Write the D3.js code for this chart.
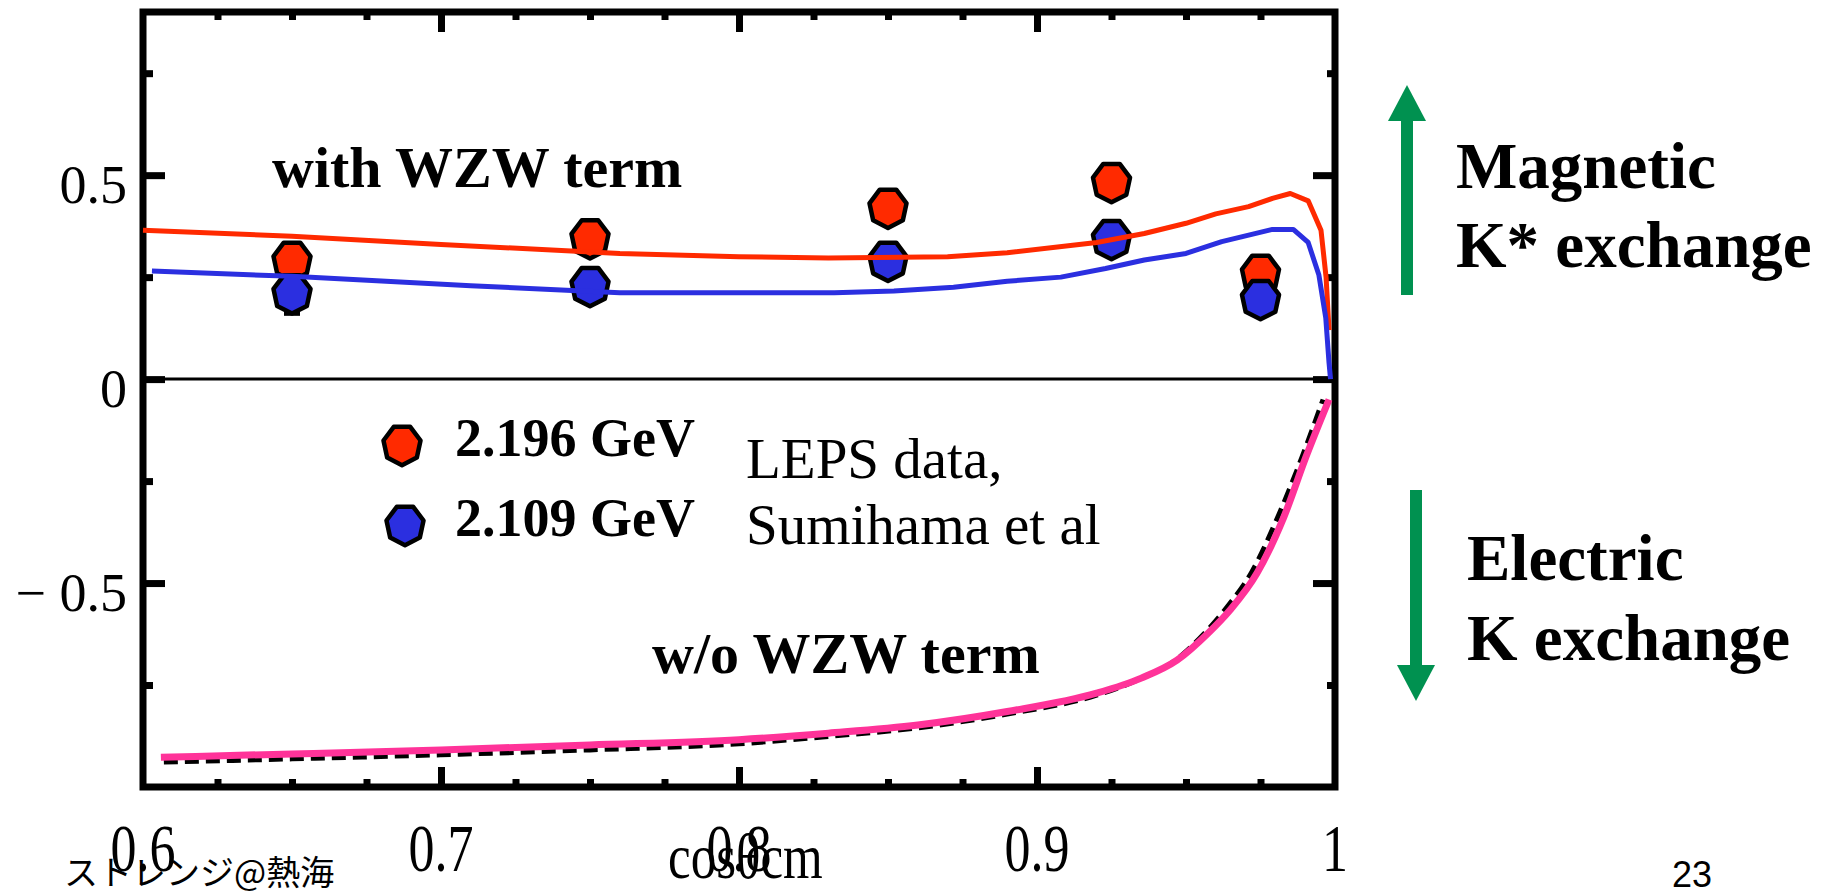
<!DOCTYPE html>
<html>
<head>
<meta charset="utf-8">
<script src="https://cdnjs.cloudflare.com/ajax/libs/d3/7.8.5/d3.min.js"></script>
<style>
  html, body { margin: 0; padding: 0; background: #fff; }
  svg { display: block; }
  .serif { font-family: "Liberation Serif", "Times New Roman", serif; }
</style>
</head>
<body>
<svg id="chart" width="1838" height="895"></svg>
<script>
(function() {
    'use strict';

    // LEPS data points (cos theta_cm)
    var dataCos = [0.65, 0.75, 0.85, 0.925, 0.975];
    var data2196 = [0.29, 0.345, 0.42, 0.483, 0.258];
    var err2196 = [0.03, 0.04, 0.035, 0.03, 0.03];
    var data2109 = [0.21, 0.228, 0.29, 0.343, 0.196];
    var err2109 = [0.05, 0.04, 0.035, 0.03, 0.03];

    // model curves with WZW term
    var withRedX = [0.6, 0.65, 0.7, 0.76, 0.8, 0.83, 0.87, 0.89, 0.92, 0.936, 0.95, 0.96, 0.971, 0.979, 0.985, 0.991, 0.9953, 0.997, 0.998];
    var withRedY = [0.365, 0.35, 0.33, 0.308, 0.3, 0.297, 0.3, 0.31, 0.335, 0.357, 0.382, 0.405, 0.423, 0.443, 0.455, 0.437, 0.365, 0.25, 0.12];
    var withBlueX = [0.603, 0.65, 0.71, 0.76, 0.832, 0.852, 0.872, 0.89, 0.908, 0.923, 0.936, 0.95, 0.962, 0.979, 0.986, 0.991, 0.9946, 0.9969, 0.998, 0.9985];
    var withBlueY = [0.265, 0.252, 0.229, 0.212, 0.212, 0.216, 0.225, 0.24, 0.25, 0.271, 0.292, 0.308, 0.337, 0.367, 0.367, 0.335, 0.255, 0.15, 0.04, 0.0];

    // model curves without WZW term
    var woPinkX = [0.606, 0.65, 0.7, 0.75, 0.8, 0.83, 0.86, 0.89, 0.92, 0.935, 0.947, 0.9574, 0.9648, 0.9738, 0.9829, 0.9903, 0.998];
    var woPinkY = [-0.927, -0.919, -0.909, -0.897, -0.884, -0.868, -0.848, -0.815, -0.77, -0.733, -0.689, -0.623, -0.566, -0.476, -0.337, -0.19, -0.05];
    var woDashX = [0.607, 0.65, 0.7, 0.75, 0.8, 0.83, 0.86, 0.89, 0.92, 0.934, 0.946, 0.956, 0.963, 0.972, 0.981, 0.989, 0.996];
    var woDashY = [-0.939, -0.931, -0.921, -0.909, -0.894, -0.876, -0.855, -0.821, -0.775, -0.737, -0.692, -0.625, -0.566, -0.474, -0.335, -0.19, -0.05];

    var xMajor = [0.6, 0.7, 0.8, 0.9, 1.0];
    var xMajorLabels = ["0.6", "0.7", "0.8", "0.9", "1"];
    var xMinor = [0.625, 0.65, 0.675, 0.725, 0.75, 0.775, 0.825, 0.85, 0.875, 0.925, 0.95, 0.975];
    var yMajor = [-0.5, 0, 0.5];
    var yMajorLabels = ["\u2212 0.5", "0", "0.5"];
    var yMinor = [-0.75, -0.25, 0.25, 0.75];

    var legendNames = ["2.196 GeV", "2.109 GeV"];
    var colRed = "#ff2a00", colBlue = "#2b2fe0", colPink = "#ff3399", colGreen = "#009150";

    var svg = d3.select("#chart");
    var left = 143, right = 1335, top = 12, bottom = 787;

    var x = d3.scaleLinear().domain([0.6, 1.0]).range([left, right]);
    var y = d3.scaleLinear().domain([-1.0, 0.9]).range([bottom, top]);

    var g = svg.append("g");

    // zero line
    g.append("line")
        .attr("x1", x(0.6)).attr("x2", x(1.0))
        .attr("y1", y(0)).attr("y2", y(0))
        .attr("stroke", "#000").attr("stroke-width", 3);

    // ticks, pointing inward on all four sides
    function ticks(axisFn, scale, values, size, transform) {
        g.append("g")
            .attr("transform", transform)
            .call(axisFn(scale).tickValues(values).tickSize(size).tickFormat(""))
            .call(function(s) {
                s.select(".domain").remove();
                s.selectAll(".tick line").attr("stroke", "#000").attr("stroke-width", 7);
            });
    }
    ticks(d3.axisBottom, x, xMajor.slice(1, 4), -20, "translate(0," + bottom + ")");
    ticks(d3.axisBottom, x, xMinor, -8, "translate(0," + bottom + ")");
    ticks(d3.axisTop, x, xMajor.slice(1, 4), -20, "translate(0," + top + ")");
    ticks(d3.axisTop, x, xMinor, -8, "translate(0," + top + ")");
    ticks(d3.axisLeft, y, yMajor, -22, "translate(" + left + ",0)");
    ticks(d3.axisLeft, y, yMinor, -10, "translate(" + left + ",0)");
    ticks(d3.axisRight, y, yMajor, -22, "translate(" + right + ",0)");
    ticks(d3.axisRight, y, yMinor, -8, "translate(" + right + ",0)");

    // frame
    g.append("rect")
        .attr("x", left).attr("y", top)
        .attr("width", right - left).attr("height", bottom - top)
        .attr("fill", "none").attr("stroke", "#000").attr("stroke-width", 7);

    // tick labels (x labels are stretched vertically in the original)
    g.selectAll(".xlab")
        .data(xMajor)
        .enter().append("text")
        .attr("class", "serif")
        .attr("transform", function(d) { return "translate(" + x(d) + ",871) scale(1,1.3)"; })
        .attr("text-anchor", "middle")
        .attr("font-size", 52)
        .text(function(d, i) { return xMajorLabels[i]; });

    g.selectAll(".ylab")
        .data(yMajor)
        .enter().append("text")
        .attr("class", "serif")
        .attr("x", 127)
        .attr("y", function(d) { return y(d) + 28; })
        .attr("text-anchor", "end")
        .attr("font-size", 54)
        .text(function(d, i) { return yMajorLabels[i]; });

    g.append("text")
        .attr("class", "serif")
        .attr("transform", "translate(668,878) scale(1,1.25)")
        .attr("font-size", 51)
        .text("cos\u03b8cm");

    // data markers: irregular heptagon blobs
    function blob(r) {
        var pts = [];
        for (var i = 0; i < 7; i++) {
            var a = Math.PI / 2 + i * 2 * Math.PI / 7;
            pts.push([r * Math.cos(a), r * Math.sin(a) * 1.06]);
        }
        return d3.line()(pts) + "Z";
    }

    function drawSeries(vals, errs, fill) {
        var s = g.append("g");
        s.selectAll("line.err")
            .data(dataCos)
            .enter().append("line")
            .attr("x1", function(d) { return x(d); })
            .attr("x2", function(d) { return x(d); })
            .attr("y1", function(d, i) { return y(vals[i] + errs[i]); })
            .attr("y2", function(d, i) { return y(vals[i] - errs[i]); })
            .attr("stroke", "#000").attr("stroke-width", 4);
        s.selectAll("line.cap")
            .data(dataCos)
            .enter().append("line")
            .attr("x1", function(d) { return x(d) - 8; })
            .attr("x2", function(d) { return x(d) + 8; })
            .attr("y1", function(d, i) { return y(vals[i] - errs[i]); })
            .attr("y2", function(d, i) { return y(vals[i] - errs[i]); })
            .attr("stroke", "#000").attr("stroke-width", 4);
        s.selectAll("path")
            .data(dataCos)
            .enter().append("path")
            .attr("d", blob(19))
            .attr("transform", function(d, i) { return "translate(" + x(d) + "," + y(vals[i]) + ")"; })
            .attr("fill", fill)
            .attr("stroke", "#000")
            .attr("stroke-width", 4.5)
            .attr("stroke-linejoin", "round");
    }
    drawSeries(data2196, err2196, colRed);
    drawSeries(data2109, err2109, colBlue);

    // curves
    function curve(xs, ys, color, width, dash, smooth) {
        var line = d3.line()
            .x(function(d) { return x(d); })
            .y(function(d, i) { return y(ys[i]); })
            .curve(smooth ? d3.curveMonotoneX : d3.curveLinear);
        g.append("path")
            .datum(xs)
            .attr("d", line)
            .attr("fill", "none")
            .attr("stroke", color)
            .attr("stroke-width", width)
            .attr("stroke-dasharray", dash)
            .attr("stroke-linejoin", "round");
    }
    curve(woDashX, woDashY, "#000", 5, "14,7", true);
    curve(woPinkX, woPinkY, colPink, 7, null, true);
    curve(withRedX, withRedY, colRed, 5, null, false);
    curve(withBlueX, withBlueY, colBlue, 5, null, false);

    // annotations
    g.append("text").attr("class", "serif")
        .attr("x", 272).attr("y", 187)
        .attr("font-size", 58).attr("font-weight", "bold")
        .text("with WZW term");

    g.append("text").attr("class", "serif")
        .attr("x", 652).attr("y", 673)
        .attr("font-size", 58).attr("font-weight", "bold")
        .text("w/o WZW term");

    // legend
    var legY = [445, 525];
    var legFill = [colRed, colBlue];
    var leg = g.selectAll(".leg")
        .data(legendNames)
        .enter().append("g");
    leg.append("path")
        .attr("d", blob(19))
        .attr("transform", function(d, i) { return "translate(" + (402 + i * 3) + "," + legY[i] + ")"; })
        .attr("fill", function(d, i) { return legFill[i]; })
        .attr("stroke", "#000").attr("stroke-width", 4.5)
        .attr("stroke-linejoin", "round");
    leg.append("text")
        .attr("class", "serif")
        .attr("x", 455)
        .attr("y", function(d, i) { return legY[i] + 11; })
        .attr("font-size", 54).attr("font-weight", "bold")
        .text(function(d) { return d; });

    g.append("text").attr("class", "serif")
        .attr("x", 746).attr("y", 478)
        .attr("font-size", 57)
        .text("LEPS data,");
    g.append("text").attr("class", "serif")
        .attr("x", 746).attr("y", 544)
        .attr("font-size", 57)
        .text("Sumihama et al");

    // arrows at right
    function arrow(cx, y0, y1) {
        var dir = y1 < y0 ? -1 : 1;
        var head = 36;
        g.append("line")
            .attr("x1", cx).attr("x2", cx)
            .attr("y1", y0).attr("y2", y1 - dir * head + dir * 2)
            .attr("stroke", colGreen).attr("stroke-width", 12);
        g.append("path")
            .attr("d", "M" + (cx - 19) + "," + (y1 - dir * head) + "L" + (cx + 19) + "," + (y1 - dir * head) + "L" + cx + "," + y1 + "Z")
            .attr("fill", colGreen);
    }
    arrow(1407, 295, 85);
    arrow(1416, 490, 701);

    var sideText = [["Magnetic", 1456, 188], ["K* exchange", 1456, 267], ["Electric", 1467, 580], ["K exchange", 1467, 660]];
    g.selectAll(".side")
        .data(sideText)
        .enter().append("text")
        .attr("class", "serif")
        .attr("x", function(d) { return d[1]; })
        .attr("y", function(d) { return d[2]; })
        .attr("font-size", 65).attr("font-weight", "bold")
        .text(function(d) { return d[0]; });

    // footer
    svg.append("text")
        .attr("x", 64).attr("y", 885)
        .attr("font-family", "'Noto Sans CJK JP', sans-serif")
        .attr("font-size", 34)
        .text("ストレンジ@熱海");
    svg.append("text")
        .attr("x", 1692).attr("y", 887)
        .attr("text-anchor", "middle")
        .attr("font-family", "'Liberation Sans', Arial, sans-serif")
        .attr("font-size", 36)
        .text("23");
})();
</script>
</body>
</html>
